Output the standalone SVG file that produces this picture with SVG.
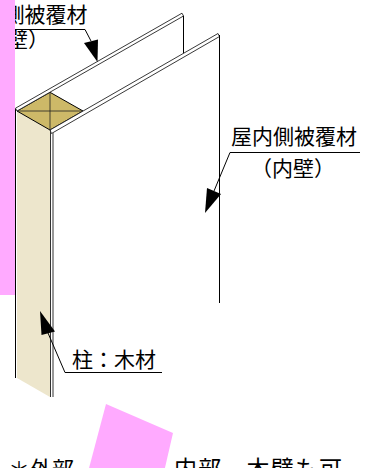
<svg xmlns="http://www.w3.org/2000/svg" width="374" height="468" viewBox="0 0 374 468">
<style>
.t{font-family:"Noto Sans CJK JP","Noto Sans CJK SC",sans-serif;fill:#000}
.ln{stroke:#000;stroke-width:1;fill:none}
.dl{stroke:#333;stroke-width:1;fill:none}
.strip{fill:#fff;stroke:#222;stroke-width:0.9;stroke-linejoin:miter}
.pink{fill:#ffaaff}
</style>
<rect width="374" height="468" fill="#fff"/>
<g id="column">
<polygon points="17,111 50,130 50,397 17,378" fill="#ede6cc"/>
<line class="ln" x1="15.5" y1="108.5" x2="15.5" y2="378"/>
<polygon points="17,111 50,92.3 83,111 50,130" fill="#cdb968" stroke="#000" stroke-width="1"/>
<line x1="17" y1="111" x2="83" y2="111" stroke="#222" stroke-width="0.8"/>
<line x1="50" y1="92.3" x2="50" y2="130" stroke="#222" stroke-width="0.8"/>
</g>
<g id="outer-panel">
<polygon class="strip" points="15.5,108.2 182,13.2 183.5,16 17,111"/>
<line class="ln" x1="183.5" y1="16" x2="183.5" y2="53.5"/>
</g>
<g id="inner-panel">
<polygon class="strip" points="50,130 218,33.5 219.5,36.5 51.5,133.5"/>
<line class="ln" x1="219.5" y1="35" x2="219.5" y2="303"/>
<line class="dl" x1="50.5" y1="130" x2="50.5" y2="397"/>
<line class="dl" x1="53" y1="133" x2="53" y2="397"/>
</g>
<g id="connectors">
<polyline class="ln" points="0,29.5 85,29.5 91,41"/>
<polygon points="84,43 98,39.5 97.5,62" fill="#000"/>
<polyline class="ln" points="360,152.5 230,152.5 214,191"/>
<polygon points="207,188 221,194 205,213" fill="#000"/>
<polyline class="ln" points="162,372.5 65,372.5 48,333"/>
<polygon points="41.5,335 55,331.5 40,311" fill="#000"/>
</g>
<g id="label-outer">
<text class="t" x="3.5" y="21.5" font-size="21">側被覆材</text>
<text class="t" x="7" y="46.5" font-size="21">壁）</text>
</g>
<g id="label-inner">
<text class="t" x="231" y="144" font-size="21">屋内側被覆材</text>
<text class="t" x="293" y="176" font-size="21" text-anchor="middle">（内壁）</text>
</g>
<g id="label-column">
<text class="t" x="72" y="367" font-size="21">柱：木材</text>
</g>
<g id="note">
<text class="t" x="8" y="477" font-size="22">＊外部―</text>
<text class="t" x="174" y="477" font-size="23" textLength="168" lengthAdjust="spacing">内部―木壁も可</text>
</g>
<rect class="pink" x="0" y="0" width="15" height="295"/>
<polygon class="pink" points="106,404 173,433 164,472 88,472"/>
</svg>
